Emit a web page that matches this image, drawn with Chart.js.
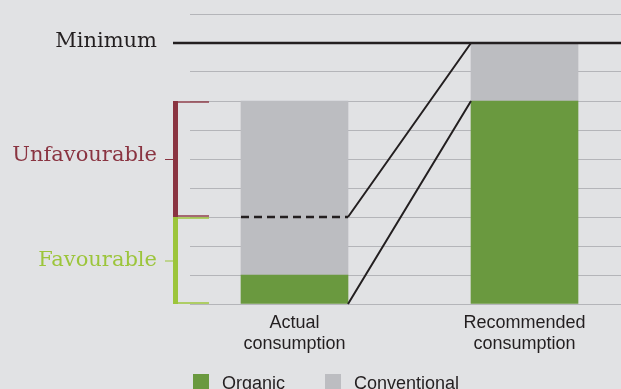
<!DOCTYPE html>
<html>
<head>
<meta charset="utf-8">
<script src="https://cdn.jsdelivr.net/npm/chart.js@4.4.1/dist/chart.umd.min.js"></script>
<style>
  html, body { margin: 0; padding: 0; background: #e1e2e4; overflow: hidden; }
  #wrap { width: 621px; height: 389px; }
</style>
</head>
<body>
<div id="wrap"><canvas id="myChart" width="621" height="389"></canvas></div>
<script>
// consumption data
var categories = [['Actual', 'consumption'], ['Recommended', 'consumption']];
var xPos = [1, 3];
var organic = [1, 7];
var conventional = [6, 2];
var minimum = 9;
var favourableTop = 3;
var unfavourableTop = 7;
var yMax = 10;

var colGreen = '#6a993f';
var colGray = '#bcbdc1';
var colInk = '#231f20';
var colRed = '#8a3441';
var colLime = '#9cc53b';

function pts(values) {
    return values.map(function(v, i) { return { x: xPos[i], y: v }; });
}

// brackets, guide lines and a hand-drawn legend
var extras = {
    id: 'extras',
    afterDatasetsDraw: function(chart) {
        var ctx = chart.ctx;
        var y = chart.scales.y;
        var area = chart.chartArea;
        var bars = chart.getDatasetMeta(0).data;
        var a = bars[0], r = bars[1];
        var aL = a.x - a.width / 2, aR = a.x + a.width / 2;
        var rL = r.x - r.width / 2;

        ctx.save();
        // dashed threshold over the actual bar
        ctx.strokeStyle = colInk;
        ctx.lineWidth = 2.5;
        ctx.setLineDash([8, 5]);
        ctx.beginPath();
        ctx.moveTo(aL, y.getPixelForValue(favourableTop));
        ctx.lineTo(aR, y.getPixelForValue(favourableTop));
        ctx.stroke();
        ctx.setLineDash([]);

        // connectors between the two bars
        ctx.lineWidth = 2;
        ctx.beginPath();
        ctx.moveTo(aR, y.getPixelForValue(favourableTop));
        ctx.lineTo(rL, y.getPixelForValue(minimum));
        ctx.moveTo(aR, y.getPixelForValue(0));
        ctx.lineTo(rL, y.getPixelForValue(organic[1]));
        ctx.stroke();

        // minimum line
        ctx.lineWidth = 2.5;
        ctx.beginPath();
        ctx.moveTo(area.left - 17, y.getPixelForValue(minimum));
        ctx.lineTo(area.right, y.getPixelForValue(minimum));
        ctx.stroke();
        ctx.restore();
    },
    afterDraw: function(chart) {
        var ctx = chart.ctx;
        var y = chart.scales.y;
        var area = chart.chartArea;
        var bx = area.left - 17;
        var y0 = y.getPixelForValue(0);
        var yF = y.getPixelForValue(favourableTop);
        var yU = y.getPixelForValue(unfavourableTop);

        ctx.save();
        // unfavourable bracket
        ctx.fillStyle = colRed;
        ctx.fillRect(bx, yU, 5, yF - yU);
        ctx.fillStyle = 'rgba(138,52,65,0.7)';
        ctx.fillRect(bx + 5, yU, 31, 2);
        ctx.fillRect(bx + 5, yF - 2, 31, 2);
        // favourable bracket
        ctx.fillStyle = colLime;
        ctx.fillRect(bx, yF, 5, y0 - yF);
        ctx.fillStyle = 'rgba(156,197,59,0.75)';
        ctx.fillRect(bx + 5, yF, 31, 2);
        ctx.fillRect(bx + 5, y0 - 2, 31, 2);

        // small ticks beside the labels
        var yUm = y.getPixelForValue((favourableTop + unfavourableTop) / 2);
        var yFm = y.getPixelForValue(favourableTop / 2);
        ctx.lineWidth = 1;
        ctx.strokeStyle = colRed;
        ctx.beginPath();
        ctx.moveTo(bx - 8, yUm + 0.5);
        ctx.lineTo(bx, yUm + 0.5);
        ctx.stroke();
        ctx.strokeStyle = colLime;
        ctx.beginPath();
        ctx.moveTo(bx - 8, yFm + 0.5);
        ctx.lineTo(bx, yFm + 0.5);
        ctx.stroke();

        // side labels
        ctx.font = '21px "DejaVu Serif"';
        ctx.textAlign = 'right';
        ctx.textBaseline = 'alphabetic';
        var tx = area.left - 33;
        ctx.fillStyle = colInk;
        ctx.fillText('Minimum', tx, y.getPixelForValue(minimum) + 4);
        ctx.fillStyle = colRed;
        ctx.fillText('Unfavourable', tx, yUm + 2);
        ctx.fillStyle = colLime;
        ctx.fillText('Favourable', tx, yFm + 5);

        // legend
        ctx.font = '18px "Liberation Sans"';
        ctx.textAlign = 'left';
        var lx = [area.left + 3, area.left + 135];
        chart.data.datasets.forEach(function(ds, i) {
            ctx.fillStyle = ds.backgroundColor;
            ctx.fillRect(lx[i], 374, 16, 16);
            ctx.fillStyle = colInk;
            ctx.fillText(ds.label, lx[i] + 29, 389);
        });
        ctx.restore();
    }
};

var config = {
    type: 'bar',
    data: {
        datasets: [{
            label: 'Organic',
            data: pts(organic),
            backgroundColor: colGreen,
            barThickness: 107
        }, {
            label: 'Conventional',
            data: pts(conventional),
            backgroundColor: colGray,
            barThickness: 107
        }]
    },
    options: {
        responsive: false,
        animation: false,
        layout: { padding: { left: 190, right: 0, top: 14, bottom: 0 } },
        plugins: {
            legend: { display: false },
            tooltip: { enabled: false }
        },
        scales: {
            x: {
                type: 'linear',
                stacked: true,
                offset: false,
                min: 0.0913,
                max: 3.8391,
                grid: { display: false },
                border: { display: false },
                afterBuildTicks: function(scale) {
                    scale.ticks = xPos.map(function(v) { return { value: v }; });
                },
                afterFit: function(scale) {
                    scale.height = 85;
                },
                ticks: {
                    autoSkip: false,
                    maxRotation: 0,
                    padding: 0,
                    color: colInk,
                    font: { family: '"Liberation Sans"', size: 18, lineHeight: 1.2 },
                    callback: function(v) {
                        return categories[xPos.indexOf(v)];
                    }
                }
            },
            y: {
                stacked: true,
                min: 0,
                max: yMax,
                ticks: { display: false, stepSize: 1 },
                border: { display: false },
                grid: { color: '#b4b5b9', lineWidth: 1, drawTicks: false }
            }
        }
    },
    plugins: [extras]
};

var myChart = new Chart(document.getElementById('myChart'), config);
</script>
</body>
</html>
